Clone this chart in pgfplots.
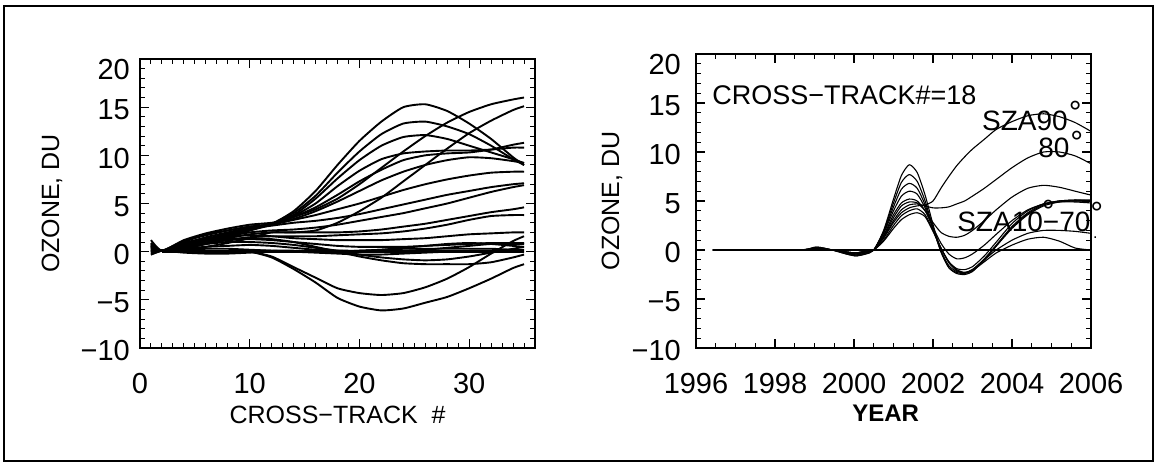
\documentclass[border=0pt]{standalone}
\usepackage{fontspec}
\setmainfont{Liberation Sans}
\usepackage{pgfplots}
\usepackage{pgfplotstable}
\pgfplotsset{compat=1.18}

% Ozone difference vs cross-track position, one column per curve
\pgfplotstableread{
x   a1   a2   a3   a4   a5   a6   a7   a8   a9   a10  a11  a12  a13  a14  a15  a16  a17  a18  a19  a20  a21  a22  a23
1   0.9  0.6  0.4  0.2  0.0 -0.1 -0.3  1.2  0.8  0.5  0.3  0.1  0.0  0.7  0.2  0.4  0.6  0.3  0.1 -0.2  0.1 -0.3  0.5
2   0.1  0.1  0.1  0.1  0.1  0.1  0.1  0.1  0.1  0.1  0.1  0.1  0.1  0.1  0.1  0.1  0.1  0.1  0.1  0.1  0.1  0.1  0.1
4   1.0  0.8  0.6  0.4  0.5  0.3  0.2  1.2  1.1  0.7  0.6  0.5  0.4  0.9  0.6  0.5  0.7  0.1  0.0 -0.1  0.0  0.2  0.3
6   1.8  1.5  1.2  1.0  1.1  0.8  0.5  1.9  1.7  1.3  1.1  1.0  0.8  1.4  1.0  0.8  1.0  0.1  0.0 -0.2 -0.1  0.3  0.5
8   2.2  2.0  1.8  1.6  1.7  1.5  0.9  2.4  2.2  1.9  1.6  1.4  1.2  1.6  1.2  1.0  1.3  0.0  0.0 -0.2  0.0  0.3  0.6
10  2.6  2.5  2.4  2.2  2.3  2.2  1.4  2.8  2.6  2.4  2.0  1.8  1.5  1.7  1.3  1.0  1.4  0.0  0.0 -0.1  0.1  0.2  0.7
12  2.9  2.9  2.9  2.8  2.9  2.9  2.0  3.0  2.8  2.7  2.2  2.0  1.6  1.6  1.2  0.9  1.3 -0.5 -0.6  0.0  0.1  0.1  0.6
14  4.2  4.0  3.8  3.7  3.6  3.6  2.0  3.4  3.3  3.0  2.3  2.0  1.6  1.4  1.0  0.7  1.0 -1.6 -1.8  0.0  0.1  0.0  0.4
16  6.3  5.8  5.5  5.0  4.6  4.4  2.2  4.2  3.8  3.2  2.5  2.0  1.6  1.3  0.8  0.4  0.5 -2.7 -3.2  0.0  0.0 -0.1  0.2
18  9.0  8.2  7.6  6.8  5.9  5.5  3.0  5.2  4.4  3.5  2.8  2.0  1.7  1.2  0.6  0.1  0.0 -3.8 -4.8  0.1  0.0 -0.2  0.1
20 11.5 10.4  9.5  8.4  7.3  7.0  4.2  6.3  5.0  3.9  3.2  2.1  1.8  1.2  0.5 -0.3 -0.5 -4.3 -5.7  0.1  0.1 -0.3  0.0
22 13.5 12.2 11.0  9.6  8.5  8.7  5.6  7.4  5.7  4.4  3.6  2.3  1.9  1.2  0.5 -0.6 -0.9 -4.5 -6.1  0.2  0.2 -0.3  0.0
24 15.0 13.3 11.9 10.2  9.5 10.4  7.3  8.3  6.4  4.9  4.0  2.6  2.1  1.3  0.5 -0.8 -1.2 -4.3 -5.9  0.3  0.4 -0.2  0.1
26 15.3 13.5 12.1 10.4 10.0 12.0  9.0  9.0  7.0  5.4  4.5  2.9  2.4  1.4  0.6 -0.9 -1.3 -3.7 -5.3  0.3  0.6 -0.1  0.2
28 14.6 13.0 11.7 10.5 10.2 13.4 10.7  9.5  7.5  5.9  5.0  3.3  2.8  1.6  0.7 -0.8 -1.3 -2.8 -4.7  0.3  0.8  0.0  0.4
30 13.3 12.2 11.0 10.5 10.3 14.5 12.3  9.8  7.9  6.3  5.6  3.7  3.3  1.8  0.8 -0.5 -1.3 -1.6 -3.8  0.3  0.9  0.1  0.6
32 11.7 11.0 10.3 10.6 10.6 15.3 13.6  9.7  8.2  6.7  6.2  4.1  3.7  1.9  0.9 -0.1 -1.1 -0.2 -2.8  0.3  0.8  0.1  0.8
34  9.8  9.6  9.6 10.8 11.1 15.8 14.7  9.4  8.3  7.0  6.7  4.4  3.8  2.0  0.9  0.3 -0.6  1.1 -1.7  0.2  0.6  0.0  0.8
35  9.0  9.0  9.2 10.8 11.3 16.0 15.1  9.2  8.3  7.1  6.9  4.6  3.8  2.0  0.9  0.5 -0.3  1.6 -1.3  0.2  0.5  0.0  0.8
}\crosstrack

% Ozone difference vs time at cross-track 18, one column per solar zenith angle
\pgfplotstableread{
yr       b1   b2   b3   b4   b5   b6   b7   b8   b9   b10
1996.43  0.0  0.0  0.0  0.0  0.0  0.0  0.0  0.0  0.0  0.0
1998.60  0.0  0.0  0.0  0.0  0.0  0.0  0.0  0.0  0.0  0.0
1999.05  0.3  0.3  0.2  0.2  0.2  0.1  0.1  0.1  0.1  0.1
1999.45  0.0  0.0  0.0  0.0  0.0  0.0  0.0  0.0  0.0  0.0
1999.80 -0.4 -0.4 -0.3 -0.3 -0.3 -0.2 -0.2 -0.2 -0.2 -0.2
2000.05 -0.6 -0.6 -0.5 -0.5 -0.4 -0.4 -0.3 -0.3 -0.3 -0.3
2000.30 -0.4 -0.4 -0.3 -0.3 -0.2 -0.2 -0.2 -0.1 -0.1 -0.1
2000.50  0.0  0.0  0.0  0.0  0.0  0.0  0.0  0.0  0.0  0.0
2000.75  2.0  1.9  1.8  1.7  1.5  1.4  1.3  1.2  1.0  0.9
2001.00  5.2  4.8  4.4  4.0  3.6  3.3  3.0  2.8  2.5  2.2
2001.20  7.6  6.9  6.2  5.5  4.8  4.5  4.1  3.8  3.5  3.1
2001.40  8.7  7.7  6.8  6.0  5.2  4.9  4.6  4.3  4.0  3.6
2001.60  7.9  7.0  6.3  5.7  5.0  4.8  4.7  4.5  4.2  3.8
2001.80  5.6  5.0  4.6  4.3  4.0  4.0  4.5  4.6  3.6  3.4
2002.00  2.6  2.3  2.2  2.2  2.3  2.8  4.3  5.0  2.0  1.9
2002.20 -0.1 -0.2 -0.1  0.2  0.7  1.8  4.3  6.3  0.2  0.2
2002.40 -1.8 -1.8 -1.6 -1.2 -0.4  1.4  4.4  7.5 -1.3 -1.2
2002.60 -2.4 -2.3 -2.2 -1.9 -0.9  1.3  4.7  8.6 -2.1 -2.0
2002.80 -2.5 -2.4 -2.3 -2.0 -0.8  1.5  5.0  9.5 -2.3 -2.3
2003.00 -2.2 -2.1 -2.0 -1.7 -0.4  2.0  5.5 10.3 -2.0 -2.1
2003.30 -1.0 -1.0 -0.9 -0.6  0.5  3.0  6.3 11.3 -1.0 -1.2
2003.60  0.4  0.4  0.5  0.8  1.6  4.1  7.2 12.3  0.0 -0.3
2004.00  2.2  2.3  2.4  2.7  3.0  5.4  8.4 13.1  1.0  0.5
2004.40  3.6  3.7  3.8  4.0  4.1  6.3  9.4 13.7  1.7  1.1
2004.80  4.5  4.6  4.7  4.7  4.7  6.6 10.0 13.9  2.0  1.3
2005.20  4.9  5.0  5.0  4.9  5.0  6.4 10.0 13.6  2.0  0.9
2005.60  5.0  5.1  5.1  4.9  5.0  6.0  9.6 13.0  1.9  0.2
2006.00  5.0  5.1  5.0  4.8  5.0  5.6  8.8 12.1  1.7  0.0
}\timeseries

% degree ring used in the angle annotations
\newcommand{\degring}[1]{\raisebox{#1}{\fontsize{32}{32}\selectfont °}}

\pgfplotsset{
  idlframe/.style={
    scale only axis, anchor=south west,
    axis line style={line width=1.6pt},
    tick align=inside,
    major tick length=9pt, minor tick length=5pt,
    major tick style={line width=1.2pt, black},
    minor tick style={line width=1pt, black},
    tick label style={font=\fontsize{29}{29}\selectfont, inner sep=0pt},
    xticklabel style={anchor=north, yshift=-25pt},
    yticklabel style={anchor=east, yshift=-3pt},
    label style={font=\fontsize{25}{25}\selectfont, inner sep=0pt},
    ymin=-10, ymax=20,
    ytick={-10,-5,0,5,10,15},
    yticklabels={−10,−5,0,5,10,15},
    extra y ticks={20}, extra y tick labels={20},
    extra y tick style={yticklabel style={yshift=-8pt}},
    minor ytick={-9,-8,-7,-6,-4,-3,-2,-1,1,2,3,4,6,7,8,9,11,12,13,14,16,17,18,19},
    clip mode=individual,
  },
  leftcurve/.style={black, line width=1.9pt, line join=round, smooth, tension=0.35},
  rightcurve/.style={black, line width=1.1pt, line join=round, smooth, tension=0.4},
}

\begin{document}
\begin{tikzpicture}[x=1pt, y=1pt]
\useasboundingbox (0,0) rectangle (1156,463);
\draw[line width=2pt] (4,2) rectangle (1153,457);

% Left panel: difference across the scan
\begin{axis}[idlframe,
  at={(140pt,115pt)}, width=395pt, height=289pt,
  xmin=0, xmax=36,
  xtick={0,10,20,30}, xticklabels={0,10,20,30},
  minor xtick={1,2,3,4,5,6,7,8,9,11,12,13,14,15,16,17,18,19,21,22,23,24,25,26,27,28,29,31,32,33,34,35},
  yticklabel style={xshift=-10pt},
  xlabel={CROSS−TRACK\hspace{0.55em}\#},
  xlabel style={at={(axis description cs:0.5,-0.232)}, anchor=center},
  ylabel={OZONE, DU},
  ylabel style={at={(axis description cs:-0.2228,0.5)}, anchor=center},
]
\addplot[black, line width=3pt] coordinates {(2,0) (35,0)};
\pgfplotsinvokeforeach{a1,a2,a3,a4,a5,a6,a7,a8,a9,a10,a11,a12,a13,a14,a15,a16,a17,a18,a19,a20,a21,a22,a23}{
  \addplot[leftcurve] table[x=x, y=#1] {\crosstrack};
}
\end{axis}

% Right panel: time series for cross-track position 18
\begin{axis}[idlframe,
  at={(696pt,115pt)}, width=395pt, height=294pt,
  xmin=1996, xmax=2006,
  xtick={1996,1998,2000,2002,2004,2006},
  xticklabels={1996,1998,2000,2002,2004,2006},
  minor xtick={1996.5,1997,1997.5,1998.5,1999,1999.5,2000.5,2001,2001.5,2002.5,2003,2003.5,2004.5,2005,2005.5},
  yticklabel style={xshift=-15pt},
  xlabel={YEAR},
  xlabel style={at={(axis description cs:0.48,-0.221)}, anchor=center, font=\fontsize{24}{24}\selectfont\bfseries},
  ylabel={OZONE, DU},
  ylabel style={at={(axis description cs:-0.2127,0.5)}, anchor=center},
]
\addplot[black, line width=2.6pt] coordinates {(1996.43,0) (2006,0)};
\pgfplotsinvokeforeach{b1,b2,b3,b4,b5,b6,b7,b8,b9,b10}{
  \addplot[rightcurve] table[x=yr, y=#1] {\timeseries};
}
\node[anchor=base west, inner sep=0pt, font=\fontsize{27}{27}\selectfont]
  at (axis cs:1996.41,14.8) {CROSS−TRACK\#=18};
\node[anchor=base west, inner sep=0pt, font=\fontsize{28}{28}\selectfont]
  at (axis cs:2003.24,12.24) {SZA90\kern1pt\degring{7pt}};
\node[anchor=base west, inner sep=0pt, font=\fontsize{28}{28}\selectfont]
  at (axis cs:2004.66,9.39) {80\kern1pt\degring{4pt}};
\node[anchor=base west, inner sep=0pt, font=\fontsize{28}{28}\selectfont]
  at (axis cs:2002.61,1.84) {SZA10\rlap{\kern-1pt\degring{9pt}}−70\degring{7pt}};
\node[anchor=base west, inner sep=0pt, font=\fontsize{16}{16}\selectfont]
  at (axis cs:2006.05,1.2) {.};
\end{axis}
\end{tikzpicture}
\end{document}
